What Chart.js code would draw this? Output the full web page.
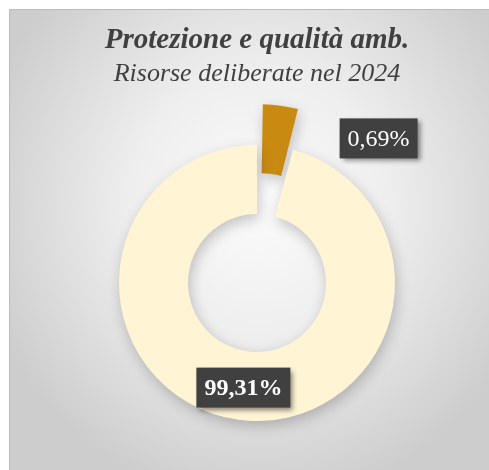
<!DOCTYPE html>
<html>
<head>
<meta charset="utf-8">
<script src="https://cdn.jsdelivr.net/npm/chart.js@4/dist/chart.umd.min.js"></script>
<style>
  html, body { margin: 0; padding: 0; background: #fff; }
  #frame {
    position: absolute; left: 9px; top: 9px; width: 479px; height: 460px;
    border-left: 1px solid #bcbcbc; border-top: 1px solid #bcbcbc;
    background: radial-gradient(ellipse 60% 65% at 52% 42%, #fbfbfb 0%, #eeeeee 45%, #d6d6d6 85%, #cdcdcd 100%);
  }
  #chart { position: absolute; left: 0; top: 0; }
</style>
</head>
<body>
<div id="frame"></div>
<canvas id="chart" width="489" height="470"></canvas>
<script>
// labels shown on the slices
const categories = ["Protezione e qualità amb.", "Altro"];
const percentLabels = ["0,69%", "99,31%"];
// slice sizes as they appear in the picture
const shares = [4.2, 95.8];
const sliceColors = ["#C98A12", "#FFF5D5"];

// where each label box sits, relative to the middle of its slice
const labelShift = [[108, -42], [0, 2]];
const labelBold = [false, true];

const shadowPlugin = {
  id: "ringShadow",
  beforeDatasetsDraw(chart) {
    const ctx = chart.ctx;
    ctx.save();
    ctx.shadowColor = "rgba(0,0,0,0.22)";
    ctx.shadowBlur = 14;
    ctx.shadowOffsetX = 2;
    ctx.shadowOffsetY = 5;
  },
  afterDatasetsDraw(chart) {
    chart.ctx.restore();
  }
};

const boxLabels = {
  id: "boxLabels",
  afterDraw(chart) {
    const ctx = chart.ctx;
    const arcs = chart.getDatasetMeta(0).data;
    arcs.forEach((arc, i) => {
      const mid = (arc.startAngle + arc.endAngle) / 2;
      const r = (arc.innerRadius + arc.outerRadius) / 2;
      const cx = arc.x + Math.cos(mid) * r + labelShift[i][0];
      const cy = arc.y + Math.sin(mid) * r + labelShift[i][1];
      ctx.save();
      ctx.font = (labelBold[i] ? "bold " : "") + "24px 'Liberation Serif', serif";
      const w = ctx.measureText(percentLabels[i]).width + 16;
      const h = 40;
      ctx.shadowColor = "rgba(0,0,0,0.45)";
      ctx.shadowBlur = 5;
      ctx.shadowOffsetX = 3;
      ctx.shadowOffsetY = 3;
      ctx.fillStyle = "#404040";
      ctx.fillRect(cx - w / 2, cy - h / 2, w, h);
      ctx.restore();
      ctx.save();
      ctx.font = (labelBold[i] ? "bold " : "") + "24px 'Liberation Serif', serif";
      ctx.fillStyle = "#ffffff";
      ctx.textAlign = "center";
      ctx.textBaseline = "middle";
      ctx.fillText(percentLabels[i], cx, cy + 1);
      ctx.restore();
    });
  }
};

new Chart(document.getElementById("chart"), {
  type: "doughnut",
  data: {
    labels: categories,
    datasets: [{
      data: shares,
      backgroundColor: sliceColors,
      borderWidth: 0,
      offset: [94, 0],
      hoverOffset: 0
    }]
  },
  options: {
    responsive: false,
    animation: false,
    radius: 138,
    cutout: "50%",
    layout: { padding: { left: 25, top: 0, right: 0, bottom: 0 } },
    plugins: {
      legend: { display: false },
      tooltip: { enabled: false },
      title: {
        display: true,
        text: "Protezione e qualità amb.",
        color: "#404040",
        font: { family: "'Liberation Serif', serif", size: 29, style: "italic", weight: "bold", lineHeight: 1.2 },
        padding: { top: 23, bottom: 0 }
      },
      subtitle: {
        display: true,
        text: "Risorse deliberate nel 2024",
        color: "#404040",
        font: { family: "'Liberation Serif', serif", size: 26, style: "italic", weight: "normal", lineHeight: 1.2 },
        padding: { top: 1, bottom: 6 }
      }
    }
  },
  plugins: [shadowPlugin, boxLabels]
});
</script>
</body>
</html>
